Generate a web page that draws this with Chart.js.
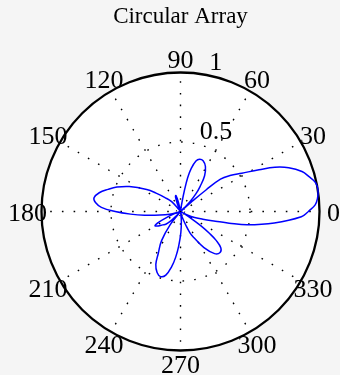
<!DOCTYPE html>
<html>
<head>
<meta charset="utf-8">
<script src="https://cdn.jsdelivr.net/npm/chart.js@4.4.1/dist/chart.umd.min.js"></script>
<style>
  html, body { margin: 0; padding: 0; background: #f5f5f5; }
  #wrap { width: 340px; height: 375px; }
</style>
</head>
<body>
<div id="wrap"><canvas id="c" width="340" height="375"></canvas></div>
<script>
// Array pattern: angle (degrees) and normalised magnitude
const thetaDeg = [
  0, 2.8, 5.5, 8.2, 10.5, 12.5, 15, 18.2, 22, 25.1, 28, 32, 36, 39, 40.2, 41.2, 42,
  44, 46, 49, 52, 56, 61, 66, 70, 73, 76, 78, 79.5, 81, 83, 90,
  100, 103, 106, 109, 113, 118, 126,
  132, 138, 143, 147, 154, 159, 163, 167, 171, 174, 177, 180, 183, 186, 190, 194, 197,
  200, 203, 206, 209, 213, 217, 221, 224, 227, 229,
  232, 237, 242, 245, 249, 253, 257, 261, 264, 267, 271, 275, 279, 283,
  286, 291, 294, 297, 303, 309, 314, 318, 321, 323, 325, 327, 329, 330,
  333, 337, 341, 344.5, 346.5, 348.7, 353, 357.5
];
const rho = [
  0.92, 0.97, 0.99, 1.00, 1.00, 0.99, 0.96, 0.92, 0.84, 0.75, 0.64, 0.52, 0.44, 0.37, 0.24, 0.10, 0.01,
  0.04, 0.10, 0.17, 0.23, 0.31, 0.37, 0.40, 0.40, 0.38, 0.32, 0.25, 0.15, 0.06, 0.01, 0.01,
  0.01, 0.07, 0.12, 0.11, 0.05, 0.01, 0.01,
  0.095, 0.15, 0.22, 0.29, 0.41, 0.49, 0.545, 0.60, 0.63, 0.615, 0.57, 0.47, 0.36, 0.26, 0.15, 0.08, 0.01,
  0.05, 0.10, 0.17, 0.21, 0.19, 0.16, 0.14, 0.10, 0.03, 0.01,
  0.12, 0.25, 0.34, 0.42, 0.47, 0.49, 0.47, 0.40, 0.33, 0.25, 0.15, 0.07, 0.01, 0.01,
  0.04, 0.10, 0.17, 0.21, 0.31, 0.39, 0.41, 0.39, 0.33, 0.26, 0.18, 0.09, 0.02, 0.01,
  0.06, 0.11, 0.17, 0.26, 0.36, 0.49, 0.68, 0.87
];

// Polar grid
const angleTicks = [0, 30, 60, 90, 120, 150, 180, 210, 240, 270, 300, 330];
const angleTickLabels = ['0', '30', '60', '90', '120', '150', '180', '210', '240', '270', '300', '330'];
const radialTicks = [0.5, 1];
const radialTickLabels = ['0.5', '1'];
const chartTitle = 'Circular Array';

const FONT = '"Liberation Serif", "Times New Roman", serif';
const rad = d => d * Math.PI / 180;

const points = thetaDeg.map((t, i) => ({ x: rho[i] * Math.cos(rad(t)), y: rho[i] * Math.sin(rad(t)) }));
points.push({ ...points[0] });

const polarGrid = {
  id: 'polarGrid',
  beforeDatasetsDraw(chart) {
    const { ctx, scales: { x, y } } = chart;
    const cx = x.getPixelForValue(0), cy = y.getPixelForValue(0);
    const R = x.getPixelForValue(1) - cx;
    ctx.save();
    // plot disk
    ctx.fillStyle = '#ffffff';
    ctx.beginPath(); ctx.arc(cx, cy, R, 0, Math.PI * 2); ctx.fill();

    // dotted spokes
    ctx.strokeStyle = '#000000';
    ctx.lineWidth = 1.4;
    ctx.setLineDash([1.6, 10.1]);
    angleTicks.forEach(a => {
      ctx.beginPath();
      ctx.moveTo(cx, cy);
      ctx.lineTo(x.getPixelForValue(Math.cos(rad(a))), y.getPixelForValue(Math.sin(rad(a))));
      ctx.stroke();
    });
    // dotted inner ring
    radialTicks.filter(v => v < 1).forEach(v => {
      ctx.beginPath(); ctx.arc(cx, cy, R * v, 0, Math.PI * 2); ctx.stroke();
    });
    ctx.setLineDash([1.4, 1.8]);
    ctx.lineWidth = 1;
    ctx.beginPath(); ctx.arc(cx, cy, R * 0.03, 0, Math.PI * 2); ctx.stroke();

    // outer ring
    ctx.setLineDash([]);
    ctx.lineWidth = 2.3;
    ctx.beginPath(); ctx.arc(cx, cy, R, 0, Math.PI * 2); ctx.stroke();

    // angle labels
    ctx.fillStyle = '#000000';
    ctx.font = '26px ' + FONT;
    ctx.textAlign = 'center';
    ctx.textBaseline = 'alphabetic';
    angleTicks.forEach((a, i) => {
      const px = x.getPixelForValue(1.1 * Math.cos(rad(a)));
      const py = y.getPixelForValue(1.1 * Math.sin(rad(a)));
      ctx.fillText(angleTickLabels[i], px, py + 9);
    });
    // radial labels along the 82 degree direction
    ctx.textAlign = 'left';
    radialTicks.forEach((v, i) => {
      const rr = v + 0.025;
      const px = x.getPixelForValue(rr * Math.cos(rad(82)));
      const py = y.getPixelForValue(rr * Math.sin(rad(82)));
      ctx.fillText(radialTickLabels[i], px + 9, py);
    });
    ctx.restore();
  }
};

new Chart(document.getElementById('c'), {
  type: 'scatter',
  data: {
    datasets: [{
      data: points,
      showLine: true,
      borderColor: '#0000ff',
      borderWidth: 1.5,
      pointRadius: 0,
      tension: 0.4,
      fill: false,
      clip: false
    }]
  },
  options: {
    responsive: false,
    devicePixelRatio: 1,
    animation: false,
    layout: { padding: { left: 41.5, right: 20.5, top: 0, bottom: 24.5 } },
    plugins: {
      legend: { display: false },
      tooltip: { enabled: false },
      title: {
        display: true,
        text: chartTitle,
        color: '#000000',
        font: { family: FONT, size: 23, weight: 'normal' },
        padding: { top: 3, bottom: 41.9 }
      }
    },
    scales: {
      x: { type: 'linear', min: -1, max: 1, display: false },
      y: { type: 'linear', min: -1, max: 1, display: false }
    }
  },
  plugins: [polarGrid]
});
</script>
</body>
</html>
